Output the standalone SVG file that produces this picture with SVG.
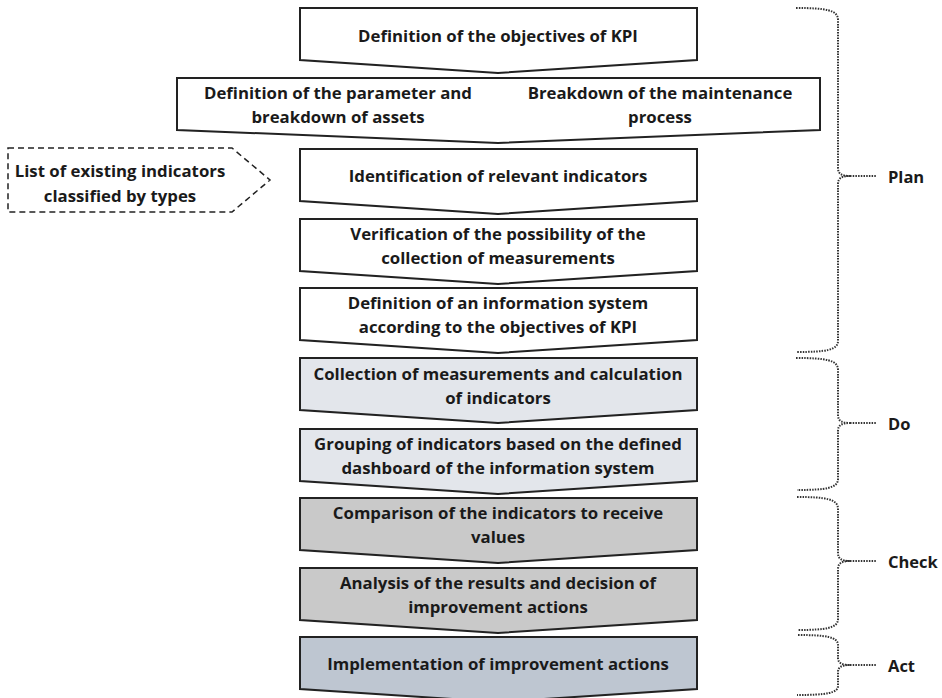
<svg xmlns="http://www.w3.org/2000/svg" width="942" height="698" viewBox="0 0 942 698">
  <style>
    .step { stroke: #222; stroke-width: 2; stroke-linejoin: miter; }
    .white { fill: #ffffff; }
    .do { fill: #e3e6eb; }
    .check { fill: #c9c9c9; }
    .act { fill: #bec6d1; }
    .lbl { font-family: "Open Sans", "Liberation Sans", sans-serif; font-weight: bold; font-size: 16.8px; fill: #1a1a1a; text-anchor: middle; dominant-baseline: central; }
    .phase { font-family: "Open Sans", "Liberation Sans", sans-serif; font-weight: bold; font-size: 16.5px; fill: #1a1a1a; dominant-baseline: central; }
    .brace { fill: none; stroke: #333; stroke-width: 2; stroke-dasharray: 1.5 1.2; }
    .input { fill: #fff; stroke: #222; stroke-width: 1.5; stroke-dasharray: 6 4; }
  </style>

  <rect width="942" height="698" fill="#ffffff"/>

  <!-- process steps -->
  <g id="step-objectives">
    <path class="step white" d="M300,8 H697 V60 L498,73 L300,60 Z"/>
    <text class="lbl" x="498" y="35">Definition of the objectives of KPI</text>
  </g>

  <g id="step-breakdown">
    <path class="step white" d="M177,78 H820 V130 L498,143 L177,130 Z"/>
    <text class="lbl" x="338" y="92">Definition of the parameter and</text>
    <text class="lbl" x="338" y="116">breakdown of assets</text>
    <text class="lbl" x="660" y="92">Breakdown of the maintenance</text>
    <text class="lbl" x="660" y="116">process</text>
  </g>

  <g id="input-list">
    <path class="input" d="M8,148 H232 L270,180 L232,212 H8 Z"/>
    <text class="lbl" x="120" y="170">List of existing indicators</text>
    <text class="lbl" x="120" y="195">classified by types</text>
  </g>

  <g id="step-identification">
    <path class="step white" d="M300,149 H697 V201 L498,214 L300,201 Z"/>
    <text class="lbl" x="498" y="175">Identification of relevant indicators</text>
  </g>

  <g id="step-verification">
    <path class="step white" d="M300,219 H697 V271 L498,284 L300,271 Z"/>
    <text class="lbl" x="498" y="233">Verification of the possibility of the</text>
    <text class="lbl" x="498" y="257">collection of measurements</text>
  </g>

  <g id="step-information-system">
    <path class="step white" d="M300,288 H697 V340 L498,353 L300,340 Z"/>
    <text class="lbl" x="498" y="302">Definition of an information system</text>
    <text class="lbl" x="498" y="326">according to the objectives of KPI</text>
  </g>

  <g id="step-collection">
    <path class="step do" d="M300,358 H697 V410 L498,423 L300,410 Z"/>
    <text class="lbl" x="498" y="373">Collection of measurements and calculation</text>
    <text class="lbl" x="498" y="397">of indicators</text>
  </g>

  <g id="step-grouping">
    <path class="step do" d="M300,429 H697 V481 L498,494 L300,481 Z"/>
    <text class="lbl" x="498" y="443">Grouping of indicators based on the defined</text>
    <text class="lbl" x="498" y="467">dashboard of the information system</text>
  </g>

  <g id="step-comparison">
    <path class="step check" d="M300,498 H697 V550 L498,563 L300,550 Z"/>
    <text class="lbl" x="498" y="512">Comparison of the indicators to receive</text>
    <text class="lbl" x="498" y="536">values</text>
  </g>

  <g id="step-analysis">
    <path class="step check" d="M300,568 H697 V620 L498,633 L300,620 Z"/>
    <text class="lbl" x="498" y="582">Analysis of the results and decision of</text>
    <text class="lbl" x="498" y="606">improvement actions</text>
  </g>

  <g id="step-implementation">
    <path class="step act" d="M300,637 H697 V689 L498,702 L300,689 Z"/>
    <text class="lbl" x="498" y="663">Implementation of improvement actions</text>
  </g>

  <!-- PDCA phase braces -->
  <g id="connectors">
    <path class="brace" d="M796,8 C826,8 838,10 838,20 V168 C838,174 842,176 850,176 C842,176 838,178 838,184 V341 C838,350 826,352 797,352"/>
    <line class="brace" x1="850" y1="176" x2="877" y2="176"/>

    <path class="brace" d="M796,358 C826,358 838,360 838,370 V415 C838,421 842,423 850,423 C842,423 838,425 838,431 V479 C838,488 826,490 797,490"/>
    <line class="brace" x1="850" y1="423" x2="877" y2="423"/>

    <path class="brace" d="M797,497 C826,497 838,499 838,509 V553 C838,559 842,561 850,561 C842,561 838,563 838,569 V619 C838,628 826,630 798,630"/>
    <line class="brace" x1="850" y1="561" x2="877" y2="561"/>

    <path class="brace" d="M798,635 C826,635 838,637 838,645 V658 C838,663 842,665 850,665 C842,665 838,667 838,672 V686 C838,693 826,695 797,695"/>
    <line class="brace" x1="850" y1="665" x2="877" y2="665"/>
  </g>

  <g id="phase-labels">
    <text class="phase" x="888" y="176">Plan</text>
    <text class="phase" x="888" y="423">Do</text>
    <text class="phase" x="888" y="561">Check</text>
    <text class="phase" x="888" y="665">Act</text>
  </g>
</svg>
